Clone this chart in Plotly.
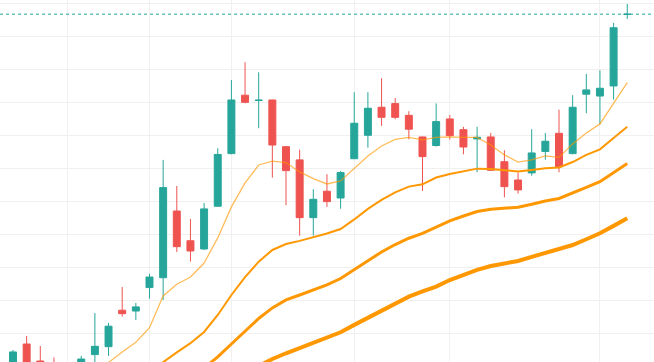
import plotly.graph_objects as go

idx = list(range(46))

opens = [38.12, 39.39, 38.36, 38.18, 37.70, 38.06, 38.75, 39.23, 41.44, 41.39,
         42.81, 43.41, 47.45, 45.65, 45.15, 47.74, 50.93, 54.47, 54.15, 54.18,
         51.35, 50.55, 47.05, 48.65, 48.24, 50.62, 52.04, 53.74, 53.96, 53.25,
         51.94, 51.42, 53.03, 52.38, 51.82, 51.94, 50.44, 49.33, 49.76, 51.06,
         52.16, 50.93, 54.53, 54.42, 55.03, 59.36]
highs = [39.03, 39.88, 39.27, 38.58, 38.06, 38.67, 41.27, 40.67, 42.85, 41.88,
         43.64, 50.55, 48.97, 46.97, 47.94, 51.25, 55.39, 56.47, 55.86, 54.20,
         51.37, 51.17, 48.77, 49.68, 49.88, 54.65, 54.65, 55.50, 54.30, 53.50,
         51.96, 53.97, 53.27, 52.55, 52.55, 52.18, 51.13, 49.78, 52.41, 52.18,
         53.59, 54.47, 55.76, 55.98, 58.85, 60.00]
lows = [37.82, 37.70, 37.82, 37.45, 37.33, 37.82, 38.06, 38.67, 41.05, 40.85,
        42.14, 42.06, 44.97, 44.38, 45.09, 47.70, 50.89, 53.98, 52.47, 49.47,
        47.80, 45.96, 45.96, 47.70, 47.59, 50.61, 51.29, 52.61, 53.01, 51.80,
        48.67, 51.36, 51.78, 50.89, 49.80, 49.88, 48.28, 48.50, 49.59, 50.56,
        49.80, 50.89, 53.38, 52.71, 54.20, 59.09]
closes = [38.91, 37.94, 38.18, 37.82, 37.94, 38.48, 39.25, 40.47, 41.23, 41.64,
          43.45, 48.87, 45.29, 45.03, 47.58, 50.88, 54.18, 54.04, 54.17, 51.45,
          49.90, 47.05, 48.16, 48.02, 49.78, 52.77, 53.68, 53.13, 53.13, 52.41,
          50.75, 52.87, 52.02, 51.33, 51.92, 49.92, 48.93, 48.73, 50.97, 51.68,
          50.14, 53.74, 54.79, 54.89, 58.56, 59.38]

ma_fast = [None] * 6 + [37.70, 38.27, 38.91, 39.50, 40.38, 42.30, 43.01, 43.45,
           44.30, 45.82, 47.70, 49.15, 50.24, 50.48, 50.39, 49.82, 49.42, 49.09,
           49.27, 50.06, 50.79, 51.39, 51.79, 51.91, 51.76, 51.91, 51.94, 51.91,
           51.91, 51.45, 50.85, 50.42, 50.55, 50.79, 50.70, 51.52, 52.18, 52.73,
           54.00, 55.23]
ma_mid = [None] * 10 + [37.70, 38.30, 38.88, 39.44, 40.12, 41.15, 42.36, 43.45,
          44.38, 45.09, 45.45, 45.64, 45.85, 46.09, 46.36, 46.94, 47.58, 48.12,
          48.58, 48.93, 49.07, 49.48, 49.70, 49.84, 50.02, 50.00, 49.94, 49.85,
          49.94, 50.04, 50.09, 50.42, 50.85, 51.19, 51.88, 52.56]
ma_slow = [None] * 14 + [37.94, 38.61, 39.39, 40.18, 40.94, 41.58, 42.06, 42.36,
           42.67, 42.97, 43.36, 43.88, 44.42, 44.97, 45.42, 45.80, 46.10, 46.48,
           46.85, 47.15, 47.42, 47.56, 47.62, 47.68, 47.86, 48.06, 48.21, 48.53,
           48.89, 49.23, 49.76, 50.33]
ma_long = [None] * 18 + [38.06, 38.48, 38.83, 39.15, 39.48, 39.79, 40.10, 40.55,
           40.97, 41.39, 41.82, 42.26, 42.58, 42.87, 43.27, 43.58, 43.88, 44.12,
           44.27, 44.42, 44.67, 44.91, 45.13, 45.39, 45.74, 46.10, 46.55, 47.01]

last_price = closes[-1]
x_grid = [4, 10, 16, 25, 32, 43]

UP = "#26a69a"
DOWN = "#ef5350"

fig = go.Figure()
fig.add_trace(go.Scatter(x=idx, y=ma_long, mode="lines",
                         line=dict(color="#ff9800", width=4), hoverinfo="skip"))
fig.add_trace(go.Scatter(x=idx, y=ma_slow, mode="lines",
                         line=dict(color="#ff9800", width=3), hoverinfo="skip"))
fig.add_trace(go.Scatter(x=idx, y=ma_mid, mode="lines",
                         line=dict(color="#ff9800", width=2), hoverinfo="skip"))
fig.add_trace(go.Scatter(x=idx, y=ma_fast, mode="lines",
                         line=dict(color="rgba(255,152,0,0.65)", width=1.3), hoverinfo="skip"))
fig.add_trace(go.Candlestick(
    x=idx, open=opens, high=highs, low=lows, close=closes,
    increasing=dict(line=dict(color=UP, width=1), fillcolor=UP),
    decreasing=dict(line=dict(color=DOWN, width=1), fillcolor=DOWN),
    whiskerwidth=0,
))

fig.add_shape(type="line", xref="paper", x0=0, x1=1, yref="y",
              y0=last_price, y1=last_price,
              line=dict(color=UP, width=1, dash="dot"))

fig.update_layout(
    width=654, height=362,
    margin=dict(l=0, r=0, t=0, b=0),
    paper_bgcolor="white", plot_bgcolor="white",
    showlegend=False,
    boxgap=0.27,
    xaxis=dict(range=[-0.952, 46.96], tickvals=x_grid, showticklabels=False,
               showgrid=True, gridcolor="#f0f0f0", gridwidth=1, zeroline=False,
               rangeslider=dict(visible=False), fixedrange=True, ticks=""),
    yaxis=dict(range=[38.30, 60.24], tick0=40, dtick=2, showticklabels=False,
               showgrid=True, gridcolor="#f0f0f0", gridwidth=1, zeroline=False,
               fixedrange=True, ticks=""),
)

fig.write_html("out.html", config={"displayModeBar": False},
               post_script="document.body.style.margin='0';document.body.style.overflow='hidden';")
